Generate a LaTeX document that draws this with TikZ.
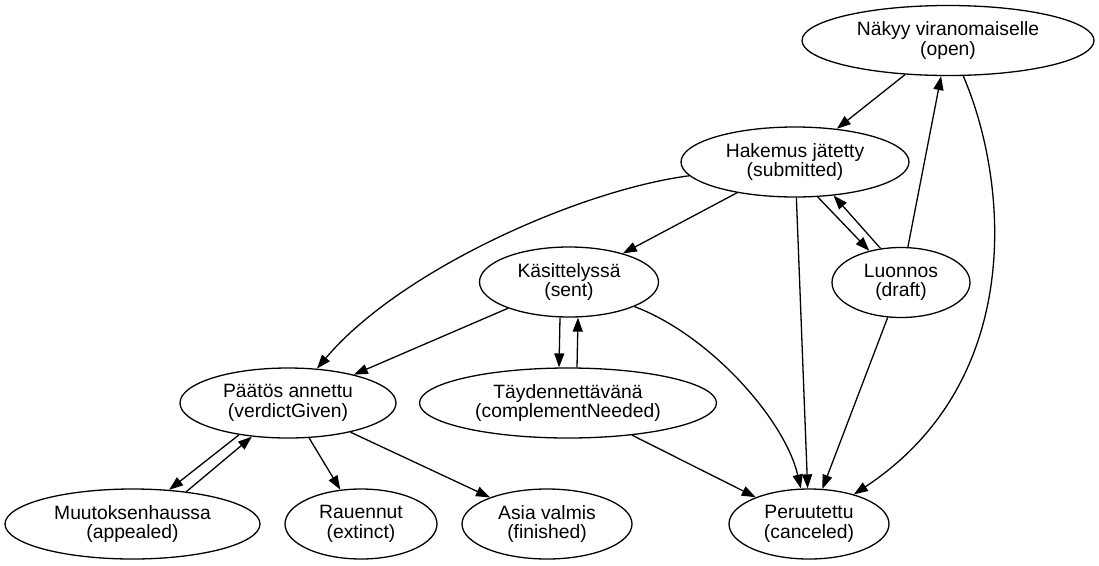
\documentclass[tikz,border=0pt]{standalone}
\usepackage{fontspec}
\setmainfont{Liberation Sans}
\usetikzlibrary{shapes.geometric,arrows.meta}

\begin{document}
\begin{tikzpicture}[x=1pt,y=-1pt,line width=1.3pt,
	state/.style={ellipse,draw,inner sep=0pt,minimum height=70pt,align=center,font=\fontsize{19.3}{19.5}\selectfont,
		execute at begin node=\rule{0pt}{18pt}},
	>={Triangle[length=14pt,width=10pt]}]
	\useasboundingbox (0,0) rectangle (1099,565);

	\node[state,minimum width=292pt] (open) at (948,40.5) {Näkyy viranomaiselle\\(open)};
	\node[state,minimum width=228pt] (submitted) at (795,162) {Hakemus jätetty\\(submitted)};
	\node[state,minimum width=138pt] (draft) at (901,282.5) {Luonnos\\(draft)};
	\node[state,minimum width=179pt] (sent) at (569,282) {Käsittelyssä\\(sent)};
	\node[state,minimum width=216pt] (verdict) at (288,403) {Päätös annettu\\(verdictGiven)};
	\node[state,minimum width=297pt] (compl) at (568,403) {Täydennettävänä\\(complementNeeded)};
	\node[state,minimum width=255pt] (appealed) at (132.5,524) {Muutoksenhaussa\\(appealed)};
	\node[state,minimum width=152pt] (extinct) at (361,524) {Rauennut\\(extinct)};
	\node[state,minimum width=170pt] (finished) at (547,524) {Asia valmis\\(finished)};
	\node[state,minimum width=160pt] (canceled) at (809,524) {Peruutettu\\(canceled)};

	\draw[->] (open) -- (submitted);
	\draw[->] (draft) -- (open);
	\draw[->] (open) .. controls (1008,180) and (1027,380) .. (canceled);
	\draw[->] (submitted) -- (sent);
	\draw[->] (submitted) .. controls (580,190) and (400,270) .. (verdict);
	\draw[->] (submitted) -- (canceled);
	\draw[->] (submitted.-57) -- (draft.135);
	\draw[->] (draft.121) -- (submitted.-41);
	\draw[->] (sent) -- (verdict);
	\draw[->] ([xshift=-9pt]sent.south) -- ([xshift=-9pt]compl.north);
	\draw[->] ([xshift=9pt]compl.north) -- ([xshift=9pt]sent.south);
	\draw[->] (sent) .. controls (710,335) and (785,420) .. (canceled);
	\draw[->] (compl) -- (canceled);
	\draw[->] (draft) -- (canceled);
	\draw[->] (verdict.213) -- (appealed.43);
	\draw[->] (appealed.31) -- (verdict.223);
	\draw[->] (verdict) -- (extinct);
	\draw[->] (verdict) -- (finished);
\end{tikzpicture}
\end{document}
